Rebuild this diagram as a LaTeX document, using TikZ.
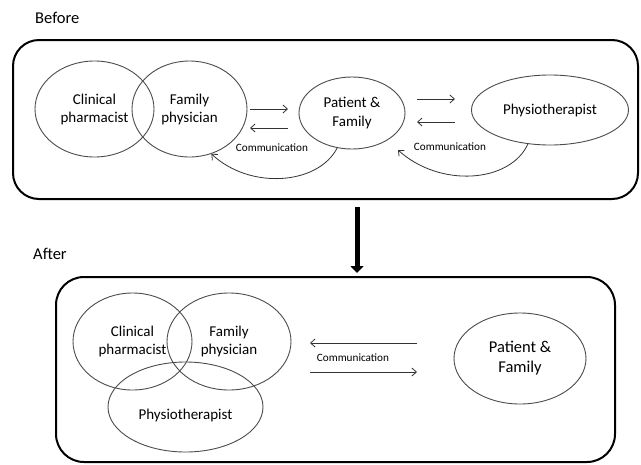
\documentclass[tikz,border=0pt]{standalone}
\usepackage{fontspec}
\setmainfont{Carlito}
\usetikzlibrary{arrows.meta,shapes.geometric}
\begin{document}
\begin{tikzpicture}[x=1pt,y=-1pt,
  frame/.style={draw=black,line width=2pt,rounded corners=26pt,rectangle,inner sep=0pt},
  party/.style={draw=black!70,line width=0.9pt,ellipse,inner sep=0pt,align=center,
    font=\fontsize{15}{18}\selectfont},
  lbl/.style={font=\fontsize{15}{18}\selectfont,align=center,inner sep=0pt},
  comm/.style={font=\fontsize{11.2}{13}\selectfont,inner sep=0pt},
  heading/.style={font=\fontsize{16.5}{19}\selectfont,inner sep=0pt,anchor=west},
  msg/.style={draw=black!80,line width=0.8pt,-{Straight Barb[length=4.5pt,width=8pt]}},
  bigarrow/.style={draw=black,line width=5pt,-{Triangle[width=13pt,length=7pt]}},
]
\useasboundingbox (0,0) rectangle (641,464);
\fill[white] (0,0) rectangle (641,464);

% ---------- Before ----------
\node[heading] (hbefore) at (35,18) {Before};
\node[frame,minimum width=625pt,minimum height=159pt] (box1) at (325.5,119.5) {};

\node[party,minimum width=119pt,minimum height=96pt] (cp1) at (94.5,109) {Clinical\\pharmacist};
\node[party,minimum width=115pt,minimum height=96pt] (fp1) at (189.5,109) {Family\\physician};
\node[party,minimum width=106pt,minimum height=72pt,font=\fontsize{15}{19}\selectfont] (pf1) at (352,113) {Patient \&\\Family};
\node[party,minimum width=157pt,minimum height=70pt] (ph1) at (550,110) {Physiotherapist};

\coordinate (a1s) at (250,109); \coordinate (a1e) at (288,109);
\coordinate (a2s) at (288,128); \coordinate (a2e) at (250,128);
\coordinate (a3s) at (417,99);  \coordinate (a3e) at (455,99);
\coordinate (a4s) at (455,122); \coordinate (a4e) at (417,122);
\draw[msg] (a1s) -- (a1e);
\draw[msg] (a2s) -- (a2e);
\draw[msg] (a3s) -- (a3e);
\draw[msg] (a4s) -- (a4e);

\node[comm] (c1) at (272,148) {Communication};
\node[comm] (c2) at (450,147) {Communication};

\coordinate (t2) at (398,150);
\draw[msg] (pf1.-113) .. controls (318,185) and (250,190) .. (fp1.-64);
\draw[msg] (ph1.-123) .. controls (510,183) and (440,188) .. (t2);

% ---------- arrow ----------
\coordinate (d1) at (357,207);
\coordinate (d2) at (357,273);
\draw[bigarrow] (d1) -- (d2);

% ---------- After ----------
\node[heading] (hafter) at (33,254) {After};
\node[frame,minimum width=559pt,minimum height=185pt,rounded corners=28pt] (box2) at (335.5,369.5) {};

\node[party,minimum width=119pt,minimum height=97pt] (cp2) at (132.5,341.5) {Clinical\\pharmacist};
\node[party,minimum width=124pt,minimum height=97pt] (fp2) at (229,341.5) {Family\\physician};
\node[party,minimum width=155pt,minimum height=90pt] (ph2) at (185.5,407) {};
\node[lbl] (ph2t) at (185.5,415) {Physiotherapist};
\node[party,minimum width=132pt,minimum height=91pt,font=\fontsize{16.5}{20}\selectfont] (pf2) at (520,358.5) {Patient \&\\Family};

\coordinate (b1s) at (417,343); \coordinate (b1e) at (310,343);
\coordinate (b2s) at (310,372); \coordinate (b2e) at (417,372);
\draw[msg] (b1s) -- (b1e);
\draw[msg] (b2s) -- (b2e);
\node[comm] (c3) at (353,358) {Communication};
\end{tikzpicture}
\end{document}
